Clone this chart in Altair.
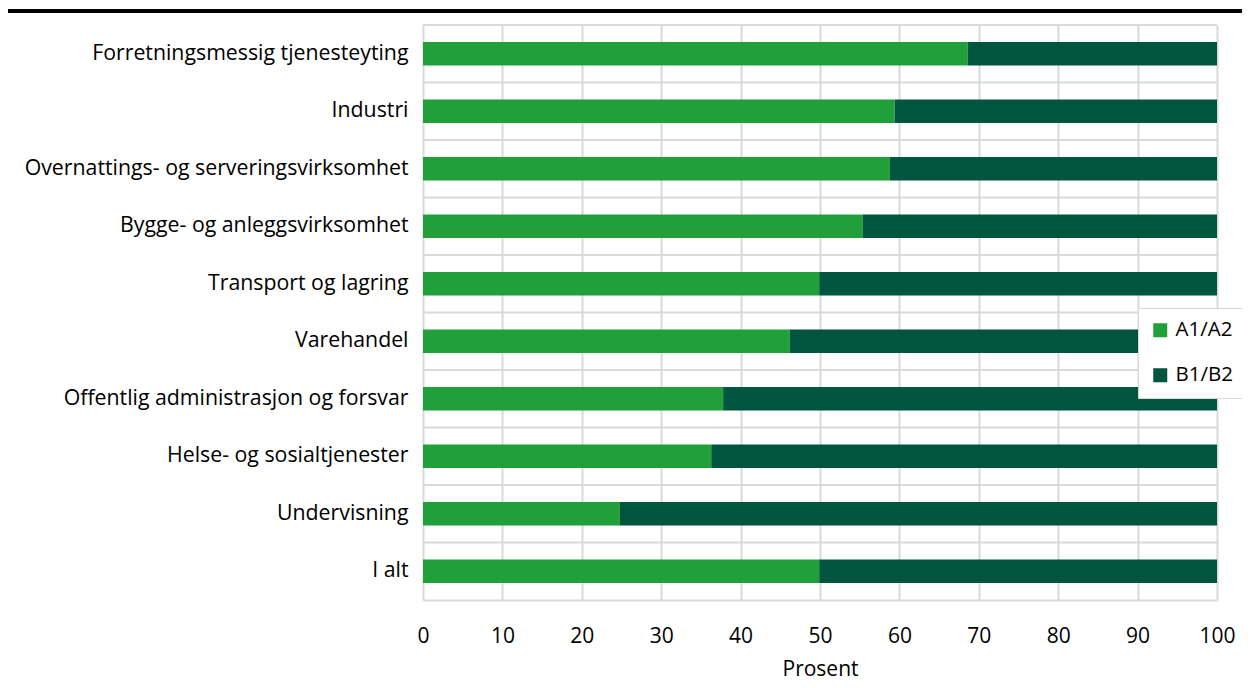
import altair as alt
import pandas as pd

categories = [
    "Forretningsmessig tjenesteyting",
    "Industri",
    "Overnattings- og serveringsvirksomhet",
    "Bygge- og anleggsvirksomhet",
    "Transport og lagring",
    "Varehandel",
    "Offentlig administrasjon og forsvar",
    "Helse- og sosialtjenester",
    "Undervisning",
    "I alt",
]
a_values = [68.6, 59.4, 58.8, 55.4, 49.9, 46.2, 37.8, 36.3, 24.8, 49.9]
b_values = [31.4, 40.6, 41.2, 44.6, 50.1, 53.8, 62.2, 63.7, 75.2, 50.1]
series = ["A1/A2", "B1/B2"]
colors = ["#21a03a", "#00553f"]
x_ticks = [0, 10, 20, 30, 40, 50, 60, 70, 80, 90, 100]

rows = []
for c, a, b in zip(categories, a_values, b_values):
    rows.append({"kat": c, "serie": series[0], "verdi": a, "ord": 0})
    rows.append({"kat": c, "serie": series[1], "verdi": b, "ord": 1})
df = pd.DataFrame(rows)
cat_df = pd.DataFrame({"kat": categories})

FONT = "Open Sans"
FS = 21

y_enc = alt.Y(
    "kat:N",
    sort=categories,
    title=None,
    scale=alt.Scale(paddingInner=0, paddingOuter=0),
    axis=alt.Axis(
        domain=False,
        ticks=False,
        grid=False,
        labelFontSize=21.3,
        labelFont=FONT,
        labelColor="#000000",
        labelPadding=15,
        labelLimit=500,
    ),
)

rules = alt.Chart(cat_df).mark_rule(color="#d9d9d9", strokeWidth=2).encode(
    y=alt.Y("kat:N", sort=categories, bandPosition=0, title=None,
            scale=alt.Scale(paddingInner=0, paddingOuter=0)),
)

bars = alt.Chart(df).mark_bar(size=23.5).encode(
    y=y_enc,
    x=alt.X(
        "verdi:Q",
        stack="zero",
        title="Prosent",
        scale=alt.Scale(domain=[0, 100], nice=False),
        axis=alt.Axis(
            values=x_ticks,
            grid=True,
            gridColor="#d9d9d9",
            gridWidth=2,
            domain=True,
            domainColor="#d9d9d9",
            domainWidth=2,
            ticks=False,
            labelFlush=False,
            labelFontSize=FS,
            labelFont=FONT,
            labelColor="#000000",
            labelPadding=25,
            titleFontSize=FS,
            titleFont=FONT,
            titleFontWeight="normal",
            titleColor="#000000",
            titlePadding=12,
        ),
    ),
    color=alt.Color(
        "serie:N",
        scale=alt.Scale(domain=series, range=colors),
        legend=alt.Legend(
            title=None,
            orient="none",
            legendX=715,
            legendY=283,
            fillColor="#ffffff",
            strokeColor="#d9d9d9",
            padding=12,
            symbolType="square",
            symbolSize=196,
            symbolStrokeWidth=0,
            labelFontSize=20.5,
            labelFont=FONT,
            labelColor="#000000",
            labelOffset=5,
            rowPadding=24,
        ),
    ),
    order=alt.Order("ord:Q"),
)

topline = alt.Chart(cat_df).mark_rule(color="#000000", strokeWidth=3).encode(
    x=alt.value(-421), x2=alt.value(830), y=alt.value(-14)
)

chart = (
    alt.layer(rules, bars, topline)
    .properties(
        width=794,
        height=575,
        autosize=alt.AutoSizeParams(type="none"),
        padding={"left": 415, "top": 17, "right": 25, "bottom": 80},
    )
    .configure_view(stroke=None)
)

chart.save("out.html", embed_options={"renderer": "svg", "actions": False})
